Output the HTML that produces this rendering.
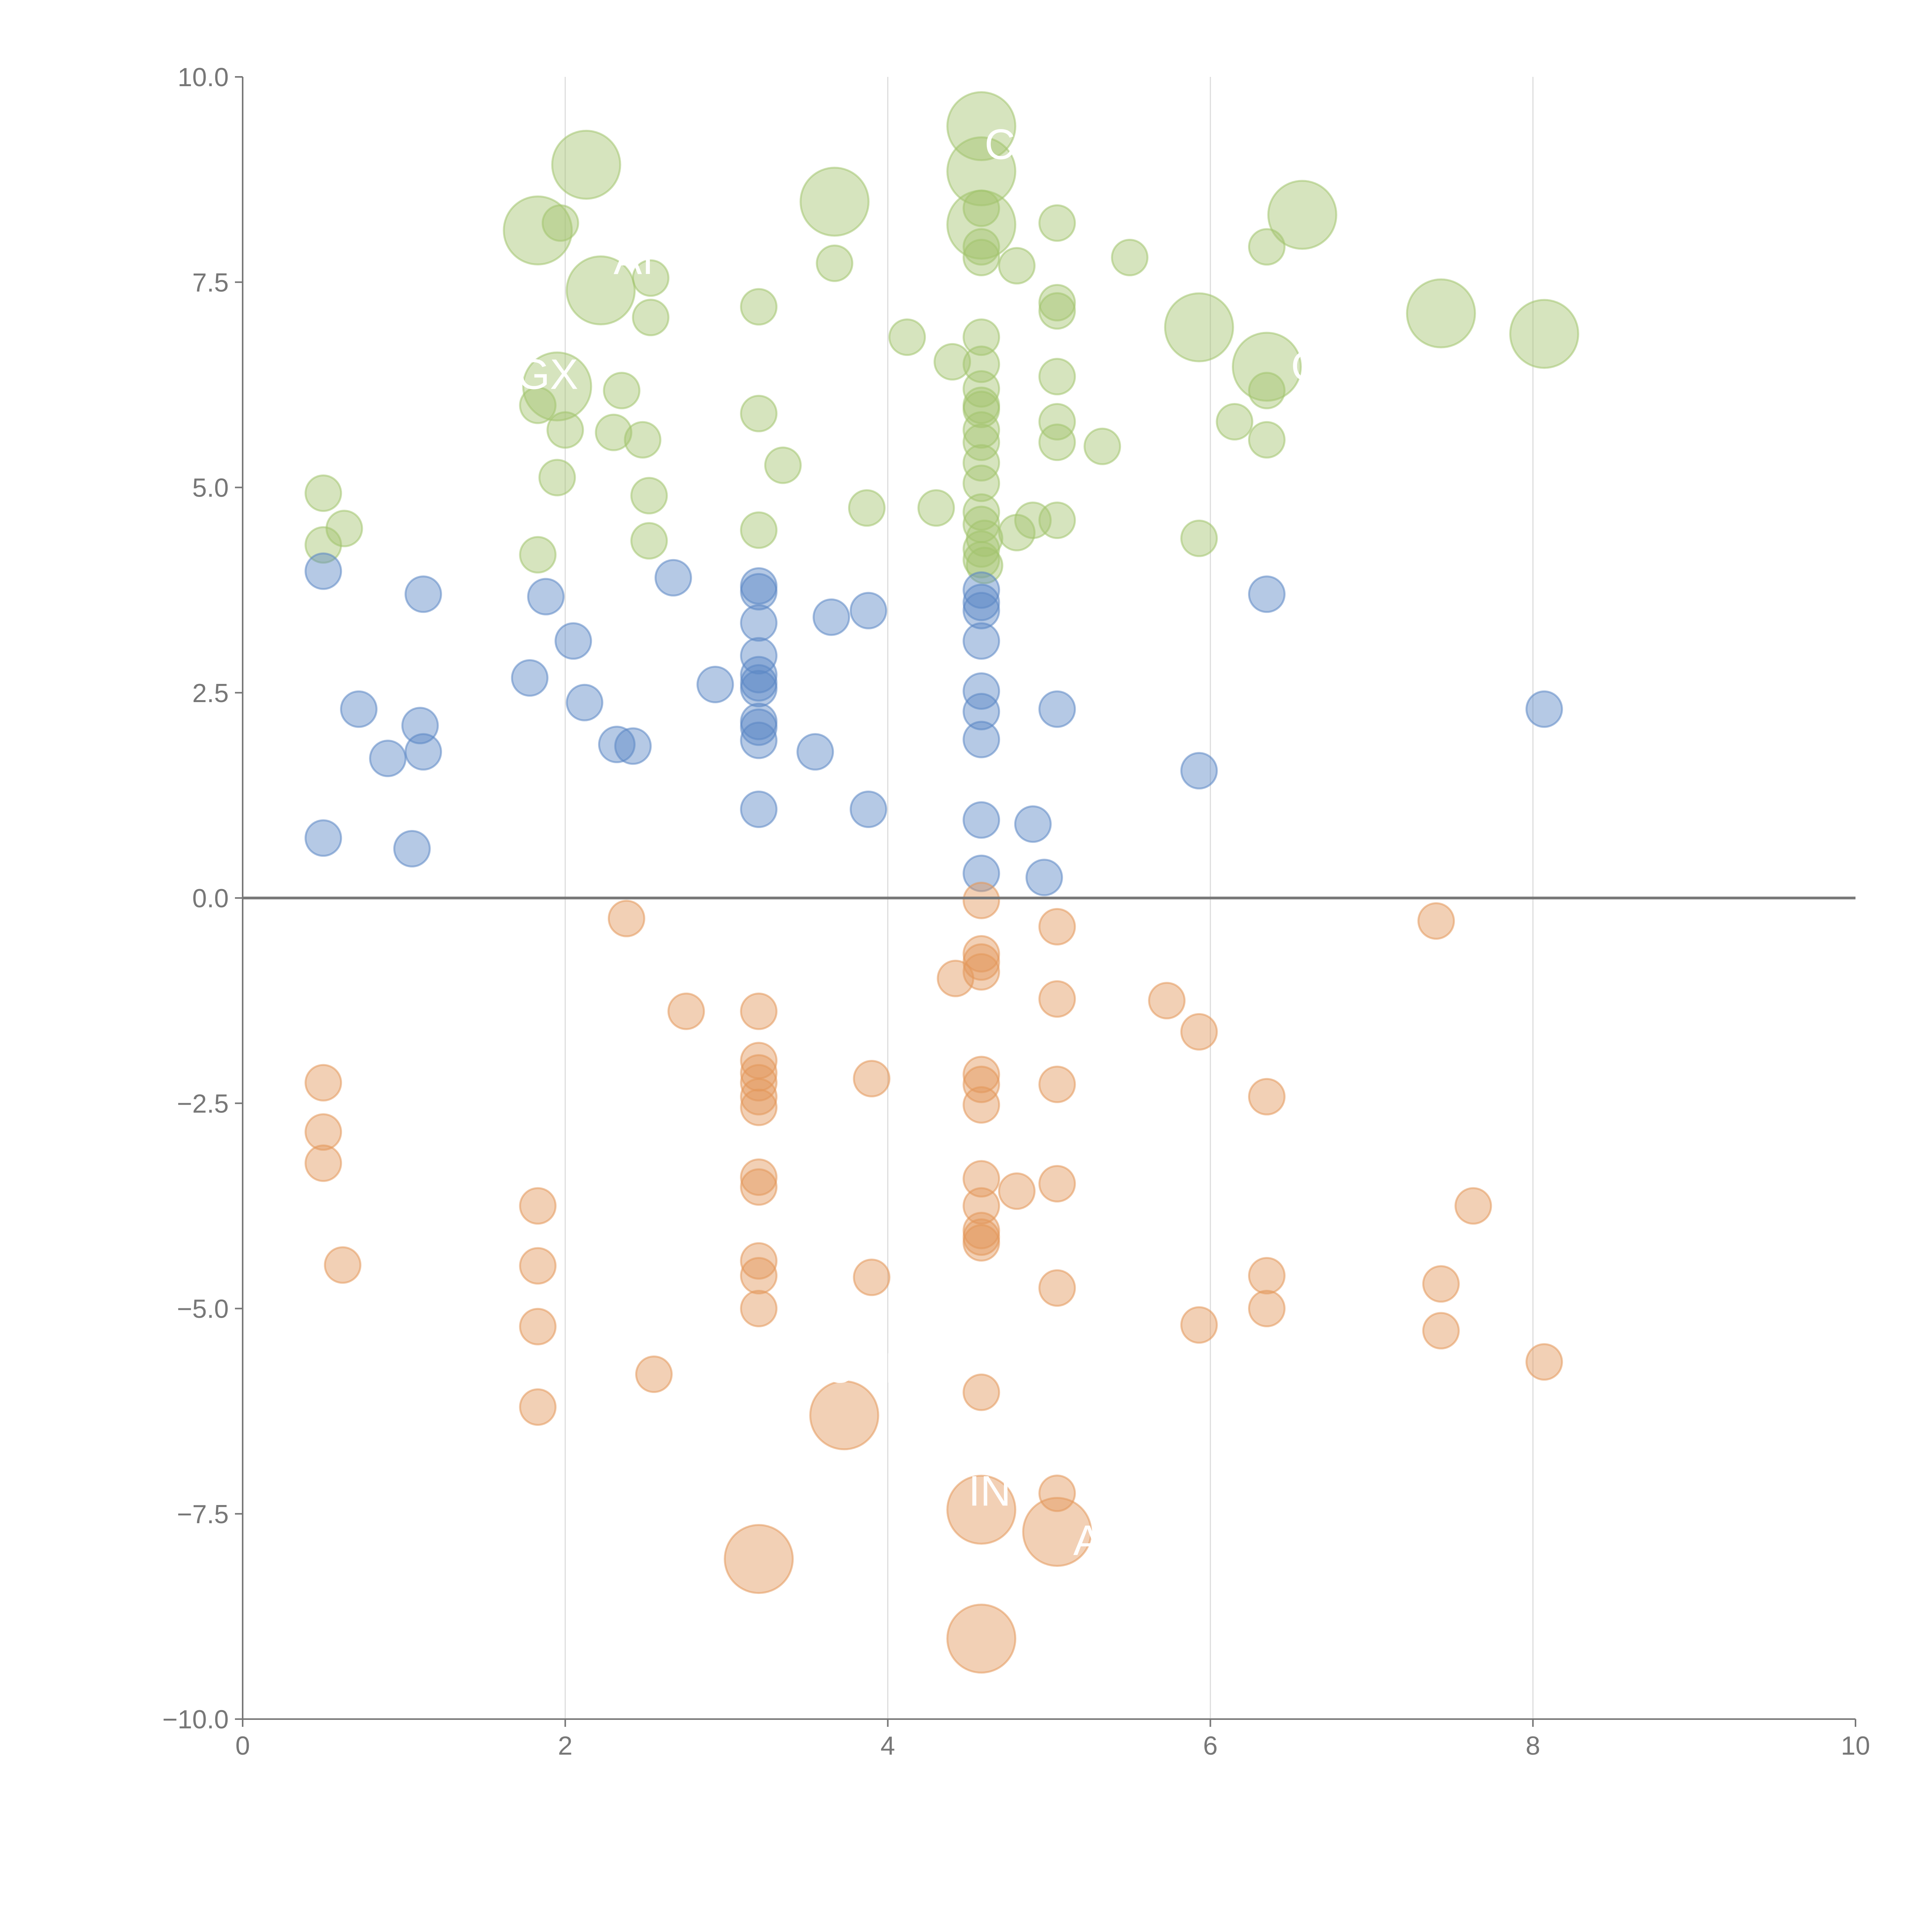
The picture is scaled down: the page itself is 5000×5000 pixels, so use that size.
<!DOCTYPE html>
<html><head><meta charset="utf-8"><style>
html,body{margin:0;padding:0;background:#fff;}
svg{display:block;font-family:"Liberation Sans",Arial,sans-serif;}
</style></head>
<body>
<svg id="chart" width="5000" height="5000" viewBox="0 0 5000 5000" xmlns="http://www.w3.org/2000/svg">
<g id="grid"></g>
<g id="marks"></g>
<g id="axes"></g>
</svg>
<script>
const xTicks=[0,2,4,6,8,10];
const yTicks=[-10,-7.5,-5,-2.5,0,2.5,5,7.5,10];
const yTickLabels=["\u221210.0","\u22127.5","\u22125.0","\u22122.5","0.0","2.5","5.0","7.5","10.0"];
const greenX=[2.13,1.83,2.22,1.95,3.67,4.58,4.58,4.58,6.57,5.93,6.35,7.43,8.07,1.97,2.53,2.53,3.2,3.67,4.58,4.58,4.58,4.8,5.05,5.5,6.35,5.05,5.05,4.12,4.58,4.4,4.58,4.58,4.58,4.58,5.05,6.35,1.83,2.0,2.35,2.3,2.48,3.2,4.58,4.58,5.05,5.05,5.33,6.15,6.35,3.35,4.58,4.58,1.95,0.5,2.52,0.5,0.63,1.83,2.52,3.2,3.87,4.3,4.58,4.58,4.9,5.05,4.8,4.6,4.58,4.58,4.6,5.93];
const greenY=[8.93,8.13,7.4,6.23,8.48,9.4,8.85,8.2,8.32,6.95,6.47,7.12,6.87,8.22,7.55,7.07,7.2,7.73,8.4,7.93,7.8,7.7,8.22,7.8,7.93,7.25,7.15,6.83,6.83,6.53,6.5,6.2,6.0,5.95,6.35,6.18,6.0,5.7,6.18,5.67,5.58,5.9,5.7,5.55,5.8,5.55,5.5,5.8,5.58,5.27,5.3,5.05,5.12,4.93,4.9,4.3,4.5,4.18,4.35,4.48,4.75,4.75,4.7,4.55,4.6,4.6,4.45,4.38,4.25,4.12,4.05,4.38];
const greenSize=[2,2,2,2,2,2,2,2,2,2,2,2,2,1,1,1,1,1,1,1,1,1,1,1,1,1,1,1,1,1,1,1,1,1,1,1,1,1,1,1,1,1,1,1,1,1,1,1,1,1,1,1,1,1,1,1,1,1,1,1,1,1,1,1,1,1,1,1,1,1,1,1];
const blueX=[0.5,1.12,1.88,2.05,2.67,3.2,3.2,3.2,3.2,3.2,3.2,3.2,3.2,3.2,3.2,3.2,3.65,3.88,4.58,4.58,4.58,4.58,4.58,4.58,4.58,4.58,4.58,5.05,4.9,4.97,6.35,5.93,8.07,1.78,2.12,2.93,0.72,1.1,0.9,1.12,2.32,2.42,3.55,3.88,0.5,1.05];
const blueY=[3.98,3.7,3.67,3.13,3.9,3.8,3.73,3.35,2.95,2.72,2.62,2.55,2.15,2.08,1.92,1.08,3.42,3.5,3.75,3.6,3.5,3.13,2.52,2.27,1.93,0.95,0.3,2.3,0.9,0.25,3.7,1.55,2.3,2.68,2.38,2.6,2.3,2.1,1.7,1.78,1.87,1.85,1.78,1.08,0.73,0.6];
const orangeX=[2.38,4.58,5.05,7.4,4.58,4.58,4.58,4.42,2.75,3.2,5.05,5.73,5.93,3.2,3.2,3.2,3.2,3.2,3.9,4.58,4.58,4.58,5.05,6.35,0.5,0.5,0.5,1.83,3.2,3.2,4.58,4.58,4.8,5.05,7.63,4.58,4.58,4.58,0.62,1.83,3.2,3.2,3.2,3.9,6.35,6.35,7.43,5.05,1.83,5.93,7.43,8.07,2.55,4.58,1.83,5.05,3.73,4.58,3.2,5.05,4.58];
const orangeY=[-0.25,-0.03,-0.35,-0.28,-0.68,-0.78,-0.9,-0.98,-1.38,-1.38,-1.23,-1.25,-1.63,-1.98,-2.13,-2.25,-2.42,-2.55,-2.2,-2.15,-2.27,-2.52,-2.27,-2.42,-2.25,-2.85,-3.23,-3.75,-3.4,-3.52,-3.42,-3.75,-3.57,-3.48,-3.75,-4.05,-4.13,-4.2,-4.47,-4.48,-4.42,-4.6,-5.0,-4.62,-4.6,-5.0,-4.7,-4.75,-5.22,-5.2,-5.27,-5.65,-5.8,-6.02,-6.2,-7.25,-6.3,-7.45,-8.05,-7.72,-9.02];
const orangeSize=[1,1,1,1,1,1,1,1,1,1,1,1,1,1,1,1,1,1,1,1,1,1,1,1,1,1,1,1,1,1,1,1,1,1,1,1,1,1,1,1,1,1,1,1,1,1,1,1,1,1,1,1,1,1,1,1,2,2,2,2,2];

const NS="http://www.w3.org/2000/svg";
const X0=628,X1=4802,Y0=4449,Y1=199;
const sx=v=>X0+(v-0)/(10-0)*(X1-X0);
const sy=v=>Y0-(v+10)/20*(Y0-Y1);
function mk(tag,attrs,parent){const e=document.createElementNS(NS,tag);for(const k in attrs)e.setAttribute(k,attrs[k]);parent.appendChild(e);return e;}
const grid=document.getElementById('grid'),marks=document.getElementById('marks'),axes=document.getElementById('axes');
[2,4,6,8].forEach(v=>{const l=mk('line',{x1:sx(v),x2:sx(v),y1:Y1,y2:Y0,stroke:'#dddddd','stroke-width':3},grid);

});
function series(xs,ys,sizes,col,name){xs.forEach((x,i)=>{const r=(sizes&&sizes[i]===2)?88:46;
const c=mk('circle',{cx:sx(x),cy:sy(ys[i]),r:r,fill:col,'fill-opacity':0.45,stroke:col,'stroke-opacity':0.55,'stroke-width':5},marks);

});}
series(greenX,greenY,greenSize,'#a3c46e','green-bubble');
series(blueX,blueY,null,'#5b87c5','blue-bubble');
series(orangeX,orangeY,orangeSize,'#e3975a','orange-bubble');
const ya=mk('line',{x1:X0,x2:X0,y1:Y1,y2:Y0,stroke:'#777','stroke-width':4},axes);

const xa=mk('line',{x1:X0,x2:X1,y1:Y0,y2:Y0,stroke:'#777','stroke-width':4},axes);

const zl=mk('line',{x1:X0,x2:X1,y1:sy(0),y2:sy(0),stroke:'#777','stroke-width':7},axes);

xTicks.forEach(v=>{mk('line',{x1:sx(v),x2:sx(v),y1:Y0,y2:Y0+20,stroke:'#777','stroke-width':4},axes);
const t=mk('text',{x:sx(v),y:Y0+92,'text-anchor':'middle','font-size':68,fill:'#777'},axes);t.textContent=v;

});
yTicks.forEach((v,i)=>{mk('line',{x1:X0-20,x2:X0,y1:sy(v),y2:sy(v),stroke:'#777','stroke-width':4},axes);
const t=mk('text',{x:X0-36,y:sy(v)+24,'text-anchor':'end','font-size':68,fill:'#777'},axes);t.textContent=yTickLabels[i];

});
[["CH",4.6,9.0],["AI",2.3,7.6],["GX",1.7,6.2],["O",6.5,6.3],["OSE",3.6,-5.9],["IN",4.5,-7.4],["A",5.15,-8.0]].forEach(l=>{
const t=mk('text',{x:sx(l[1]),y:sy(l[2]),'font-size':110,fill:'#ffffff'},marks);t.textContent=l[0];

});
</script>
</body></html>
